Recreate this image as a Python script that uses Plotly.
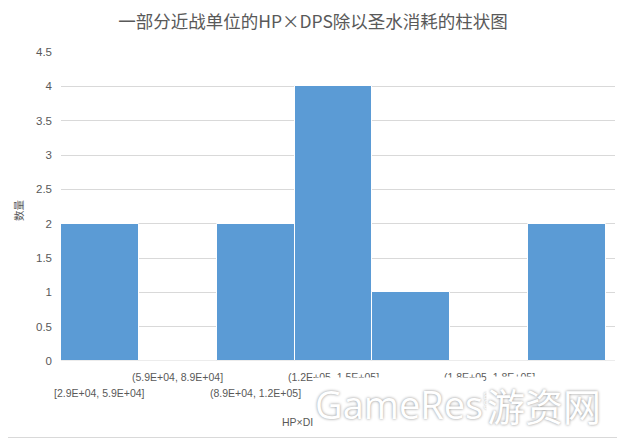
import plotly.graph_objects as go

categories = ["[2.9E+04, 5.9E+04]", "(5.9E+04, 8.9E+04]", "(8.9E+04, 1.2E+05]",
              "(1.2E+05, 1.5E+05]", "(1.5E+05, 1.8E+05]", "(1.8E+05, 1.8E+05]",
              "(1.8E+05, 2.1E+05]"]
label_shown = [True, True, True, True, False, True, False]  # hidden under watermark in the original
counts = [2, 0, 2, 4, 1, 0, 2]
y_ticks = [0, 0.5, 1, 1.5, 2, 2.5, 3, 3.5, 4, 4.5]
y_ticklabels = ["0", "0.5", "1", "1.5", "2", "2.5", "3", "3.5", "4", "4.5"]

# page body has an 8px margin; compensate so the chart lands where the reference does
OFF = 8
W, H = 625 - OFF, 438 - OFF
ML, MR, MT, MB = 61 - OFF, 10, 52 - OFF, 77
pw, ph = W - ML - MR, H - MT - MB


def px(xr):
    return (xr - OFF - ML) / pw


def py(yr):
    return 1 - (yr - OFF - MT) / ph


grey = "#595959"
font_cjk = "Noto Sans CJK SC, Noto Sans, sans-serif"

fig = go.Figure()
fig.add_trace(go.Bar(
    x=list(range(len(categories))), y=counts,
    marker=dict(color="#5B9BD5", line=dict(color="white", width=1)),
    width=1.0, hoverinfo="skip",
))

annotations = []
for i, lab in enumerate(categories):
    if not label_shown[i]:
        continue
    row = 0 if i % 2 == 1 else 1
    annotations.append(dict(
        x=i, y=0, xref="x", yref="y", text=lab, showarrow=False,
        yanchor="middle", xanchor="center",
        yshift=-(16 + 16 * row),
        font=dict(family="Liberation Sans, Arial, sans-serif", size=10.5, color=grey),
    ))
annotations.append(dict(
    x=px(297), y=py(422), xref="paper", yref="paper", text="HP×DI", showarrow=False,
    xanchor="center", yanchor="middle",
    font=dict(family="Liberation Sans, Arial, sans-serif", size=10.5, color=grey),
))
annotations.append(dict(
    x=px(18), y=py(210), xref="paper", yref="paper", text="数量", showarrow=False,
    textangle=-90, xanchor="center", yanchor="middle",
    font=dict(family=font_cjk, size=10.5, color=grey),
))
# watermark
wm_font = dict(size=38, color="white", shadow="0px 0px 3px #8a8a8a")
annotations.append(dict(
    x=px(399), y=py(404), xref="paper", yref="paper",
    text="GameRes", showarrow=False, xanchor="center", yanchor="middle",
    bgcolor="white", borderpad=0,
    font=dict(family="Open Sans, sans-serif", **wm_font),
))
annotations.append(dict(
    x=px(485), y=py(402), xref="paper", yref="paper",
    text=".com", showarrow=False, xanchor="center", yanchor="middle", textangle=-90,
    font=dict(family="Open Sans, sans-serif", size=9, color="white",
              shadow="0px 0px 2px #8a8a8a"),
))
annotations.append(dict(
    x=px(544), y=py(404), xref="paper", yref="paper",
    text="游资网", showarrow=False, xanchor="center", yanchor="middle",
    bgcolor="white", borderpad=0,
    font=dict(family=font_cjk, **wm_font),
))

shapes = [
    dict(type="line", xref="paper", yref="paper", x0=px(624.5), x1=px(624.5),
         y0=py(0), y1=py(437.5), line=dict(color="#d9d9d9", width=1)),
    dict(type="line", xref="paper", yref="paper", x0=px(0), x1=px(624.5),
         y0=py(437.5), y1=py(437.5), line=dict(color="#d9d9d9", width=1)),
    dict(type="line", xref="paper", yref="y", x0=0, x1=1, y0=0, y1=0,
         line=dict(color="#d9d9d9", width=1), layer="above"),
]

fig.update_layout(
    width=W, height=H,
    margin=dict(l=ML, r=MR, t=MT, b=MB),
    paper_bgcolor="white", plot_bgcolor="white",
    showlegend=False, bargap=0,
    title=dict(text="一部分近战单位的HP×DPS除以圣水消耗的柱状图",
               x=(313 - OFF) / W, xref="container", xanchor="center",
               y=1 - (22 - OFF) / H, yref="container", yanchor="middle",
               font=dict(family=font_cjk, size=17.5, color=grey)),
    xaxis=dict(range=[-0.5, len(categories) - 0.385], showticklabels=False,
               showgrid=False, zeroline=False, showline=False, ticks=""),
    yaxis=dict(range=[0, 4.5], tickvals=y_ticks, ticktext=y_ticklabels,
               showgrid=True, gridcolor="#d9d9d9", gridwidth=1, zeroline=False,
               showline=False, ticks="", ticklabelstandoff=8,
               tickfont=dict(family="Liberation Sans, Arial, sans-serif", size=11.5, color=grey)),
    annotations=annotations,
    shapes=shapes,
)

fig.write_html("out.html")
